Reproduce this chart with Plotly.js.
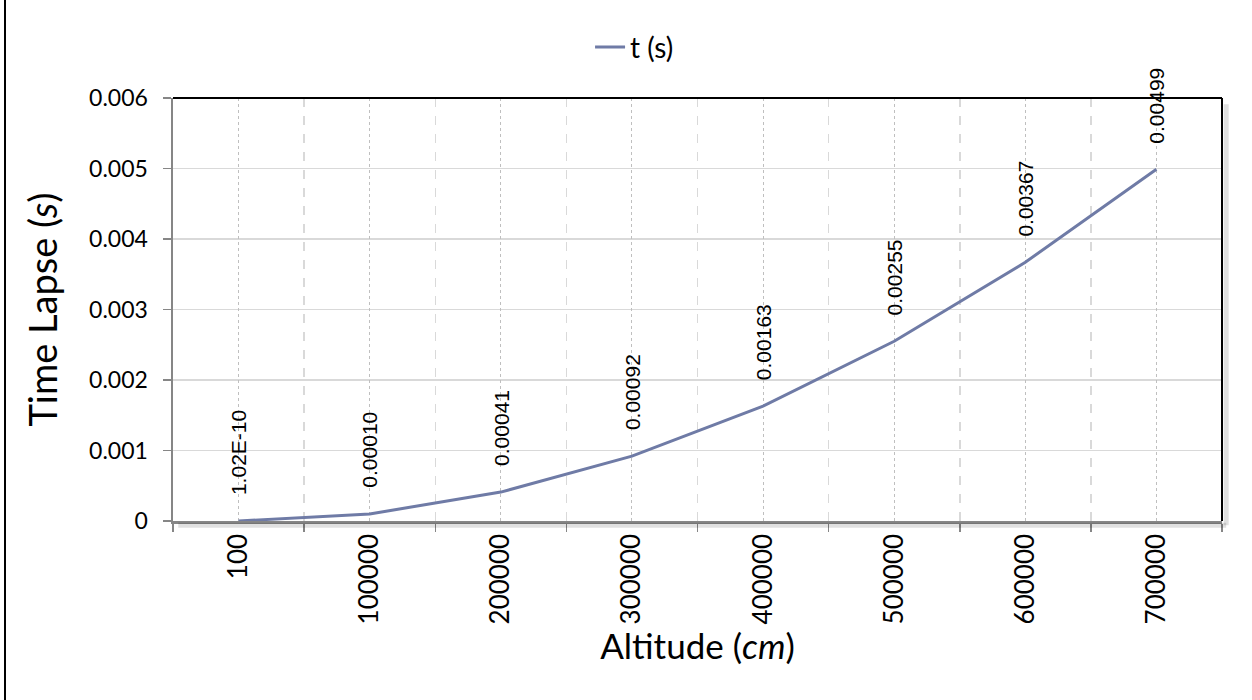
<!DOCTYPE html>
<html>
<head>
<meta charset="utf-8">
<script src="https://cdn.plot.ly/plotly-3.0.1.min.js"></script>
<style>
  html, body { margin: 0; padding: 0; background: #fff; }
  #chart { width: 1252px; height: 700px; position: relative; }
  #frame { position: absolute; left: 4px; top: 0; width: 2px; height: 700px; background: #000; }
</style>
</head>
<body>
<div id="chart"></div>
<div id="frame"></div>
<script>
// Data
const altitudes = ['100', '100000', '200000', '300000', '400000', '500000', '600000', '700000'];
const timeLapse = [1.02e-10, 0.00010, 0.00041, 0.00092, 0.00163, 0.00255, 0.00367, 0.00499];
const pointLabels = ['1.02E-10', '0.00010', '0.00041', '0.00092', '0.00163', '0.00255', '0.00367', '0.00499'];
const seriesName = 't (s)';
const yTicks = [0, 0.001, 0.002, 0.003, 0.004, 0.005, 0.006];
const yTickText = ['0', '0.001', '0.002', '0.003', '0.004', '0.005', '0.006'];

const gill = 'Lato, "Open Sans", sans-serif';
const lineColor = '#6f7ba6';

const traces = [
  {
    x: altitudes, y: timeLapse, xaxis: 'x', yaxis: 'y',
    mode: 'lines', name: seriesName,
    line: {color: lineColor, width: 3}
  },
  {
    x: altitudes, y: timeLapse, xaxis: 'x2', yaxis: 'y',
    mode: 'lines', line: {color: 'rgba(0,0,0,0)', width: 0},
    hoverinfo: 'skip', showlegend: false
  }
];

const annotations = altitudes.map((a, i) => ({
  x: i, y: timeLapse[i], xref: 'x', yref: 'y',
  text: pointLabels[i], showarrow: false, textangle: -90,
  xanchor: 'center', yanchor: 'bottom', yshift: 24,
  font: {family: 'Liberation Sans, Arial, sans-serif', size: 21, color: '#000'}
}));

const layout = {
  width: 1252, height: 700,
  margin: {l: 173, r: 30, t: 98, b: 179},
  paper_bgcolor: '#fff', plot_bgcolor: '#fff',
  showlegend: true,
  legend: {
    orientation: 'h', x: 0.44, xanchor: 'center', xref: 'paper',
    y: 1.12, yanchor: 'middle',
    font: {family: gill, size: 28, color: '#000'}
  },
  xaxis: {
    type: 'category', range: [-0.5, 7.5], tickson: 'boundaries',
    showgrid: true, gridcolor: '#d9d9d9', gridwidth: 1.5, griddash: 'dash',
    ticks: 'outside', ticklen: 8, tickcolor: '#868686', tickwidth: 1.5,
    showline: true, linecolor: '#868686', linewidth: 2.5,
    tickangle: -90, tickfont: {family: gill, size: 26, color: '#000'},
    title: {text: 'Altitude (<i>cm</i>)', font: {family: gill, size: 35, color: '#000'}, standoff: 10},
    zeroline: false, fixedrange: true
  },
  xaxis2: {
    type: 'category', range: [-0.5, 7.5], overlaying: 'x', anchor: 'y',
    showgrid: true, gridcolor: '#bfbfbf', gridwidth: 1, griddash: 'dot',
    showticklabels: false, ticks: '', showline: false, zeroline: false
  },
  yaxis: {
    range: [0, 0.006], tickvals: yTicks, ticktext: yTickText,
    showgrid: true, gridcolor: '#d9d9d9', gridwidth: 1.5,
    ticks: 'outside', ticklen: 8, tickcolor: '#868686', tickwidth: 1.5,
    ticklabelstandoff: 10,
    showline: true, linecolor: '#868686', linewidth: 2.5,
    tickfont: {family: gill, size: 23, color: '#000'},
    title: {text: 'Time Lapse (<i>s</i>)', font: {family: gill, size: 38, color: '#000'}, standoff: 20},
    zeroline: false, fixedrange: true
  },
  shapes: [
    {type: 'line', xref: 'paper', yref: 'paper', x0: 0, x1: 1, y0: 1, y1: 1, line: {color: '#000', width: 2}},
    {type: 'line', xref: 'paper', yref: 'paper', x0: 1, x1: 1, y0: 0, y1: 1, line: {color: '#000', width: 2}},
    {type: 'line', xref: 'paper', yref: 'paper', x0: 1.004, x1: 1.004, y0: -0.01, y1: 0.985, line: {color: 'rgba(0,0,0,0.12)', width: 5}},
    {type: 'line', xref: 'paper', yref: 'paper', x0: 0.005, x1: 1.004, y0: -0.01, y1: -0.01, line: {color: 'rgba(0,0,0,0.12)', width: 5}}
  ],
  annotations: annotations
};

Plotly.newPlot('chart', traces, layout, {displayModeBar: false, staticPlot: true});
</script>
</body>
</html>
